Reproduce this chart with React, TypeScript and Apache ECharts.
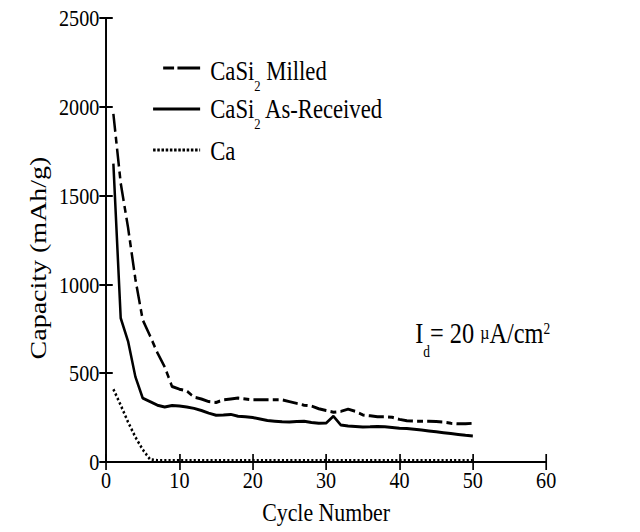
import React, { useEffect, useRef } from "react";
import * as echarts from "echarts";

const cycles = [1,2,3,4,5,6,7,8,9,10,11,12,13,14,15,16,17,18,19,20,21,22,23,24,25,26,27,28,29,30,31,32,33,34,35,36,37,38,39,40,41,42,43,44,45,46,47,48,49,50];

const milled = [1960,1570,1320,1030,800,710,615,535,425,410,400,365,355,340,335,350,355,360,355,350,350,350,350,350,340,330,320,315,300,290,280,285,298,285,265,260,255,255,252,240,232,230,230,230,228,225,218,215,215,218];

const asReceived = [1680,810,680,480,360,340,320,310,318,315,310,302,290,275,263,265,268,258,255,250,242,234,230,226,225,228,230,222,218,219,258,208,203,200,197,198,200,198,194,190,188,184,180,175,170,165,160,155,150,146];

const calcium = [410,320,225,140,70,15,8,8,8,8,8,8,8,8,8,8,8,8,8,8,8,8,8,8,8,8,8,8,8,8,8,8,8,8,8,8,8,8,8,8,8,8,8,8,8,8,8,8,8,8];

const xTicks = [0, 60, 10];
const yTicks = [0, 2500, 500];

const FONT = "Liberation Serif";
const NATIVE_W = 742;
const SQUEEZE = 0.84;
const SHIFT = 17;

function pairs(vals: number[]) {
  return vals.map((v, i) => [cycles[i], v]);
}

export default function App() {
  const ref = useRef<HTMLDivElement>(null);
  useEffect(() => {
    document.body.style.margin = "0";
    const chart = echarts.init(ref.current!, null, { renderer: "svg" });
    const axisLine = { show: true, lineStyle: { color: "#000", width: 2 } };
    const tick = { show: true, inside: true, length: 8, lineStyle: { color: "#000", width: 2 } };
    const mainRich = {
      a: { fontFamily: FONT, fontSize: 27, fill: "#000" },
      s: { fontFamily: FONT, fontSize: 15, padding: [31, 0, 0, 0] },
    };
    const legendText = (y: number, text: string) => ({
      type: "text",
      x: 230,
      y,
      style: {
        text,
        rich: mainRich,
        fontFamily: FONT,
        fontSize: 27,
        fill: "#000",
        verticalAlign: "middle",
        align: "left",
      },
    });
    chart.setOption({
      animation: false,
      backgroundColor: "#fff",
      grid: { left: 106, right: NATIVE_W - 630, top: 18, bottom: 70 },
      xAxis: [
        {
          type: "value",
          min: xTicks[0],
          max: xTicks[1],
          interval: xTicks[2],
          name: "Cycle Number",
          nameLocation: "middle",
          nameGap: 37,
          nameTextStyle: { fontFamily: FONT, fontSize: 26, color: "#000" },
          axisLine,
          axisTick: tick,
          splitLine: { show: false },
          axisLabel: { fontFamily: FONT, fontSize: 24, color: "#000", margin: 6 },
        },
        {
          type: "value",
          position: "top",
          min: xTicks[0],
          max: xTicks[1],
          interval: xTicks[2],
          axisLine,
          axisTick: tick,
          splitLine: { show: false },
          axisLabel: { show: false },
        },
      ],
      yAxis: [
        {
          type: "value",
          min: yTicks[0],
          max: yTicks[1],
          interval: yTicks[2],
          name: "Capacity (mAh/g)",
          nameLocation: "middle",
          nameGap: 56,
          nameTextStyle: { fontFamily: FONT, fontSize: 28, color: "#000", padding: [0, 36, 0, 0] },
          axisLine,
          axisTick: tick,
          splitLine: { show: false },
          axisLabel: { fontFamily: FONT, fontSize: 24, color: "#000", margin: 8, formatter: (v: number) => String(v) },
        },
        {
          type: "value",
          position: "right",
          min: yTicks[0],
          max: yTicks[1],
          interval: yTicks[2],
          axisLine,
          axisTick: tick,
          splitLine: { show: false },
          axisLabel: { show: false },
        },
      ],
      series: [
        {
          name: "CaSi2 Milled",
          type: "line",
          data: pairs(milled),
          showSymbol: false,
          symbol: "none",
          lineStyle: { color: "#000", width: 3, type: [18, 5, 7, 5] },
        },
        {
          name: "CaSi2 As-Received",
          type: "line",
          data: pairs(asReceived),
          showSymbol: false,
          symbol: "none",
          lineStyle: { color: "#000", width: 3 },
        },
        {
          name: "Ca",
          type: "line",
          data: pairs(calcium),
          showSymbol: false,
          symbol: "none",
          lineStyle: { color: "#000", width: 3, type: [2.5, 2.5] },
        },
      ],
      graphic: [
        { type: "line", shape: { x1: 174, y1: 68, x2: 218, y2: 68 }, style: { stroke: "#000", lineWidth: 3, lineDash: [13, 4, 27, 4] } },
        legendText(71, "{a|CaSi}{s|2}{a| Milled}"),
        { type: "line", shape: { x1: 162, y1: 109, x2: 218, y2: 109 }, style: { stroke: "#000", lineWidth: 3 } },
        legendText(109, "{a|CaSi}{s|2}{a| As-Received}"),
        { type: "line", shape: { x1: 162, y1: 150, x2: 218, y2: 150 }, style: { stroke: "#000", lineWidth: 3, lineDash: [3, 2] } },
        legendText(151, "{a|Ca}"),
        {
          type: "text",
          x: 474,
          y: 333,
          style: {
            text: "{a|I}{s|d}{a|= 20 }{m|µ}{a|A/cm}{p|2}",
            rich: {
              a: { fontFamily: FONT, fontSize: 29, fill: "#000" },
              s: { fontFamily: FONT, fontSize: 16, padding: [38, 0, 0, 0] },
              m: { fontFamily: FONT, fontSize: 19 },
              p: { fontFamily: FONT, fontSize: 16, padding: [0, 0, 8, 0] },
            },
            fontFamily: FONT,
            fontSize: 29,
            fill: "#000",
            verticalAlign: "middle",
            align: "left",
          },
        },
      ],
    });
    return () => chart.dispose();
  }, []);
  return (
    <div style={{ width: 640, height: 532, overflow: "hidden", position: "relative", background: "#fff" }}>
      <div
        ref={ref}
        style={{
          width: NATIVE_W,
          height: 532,
          position: "absolute",
          left: 0,
          top: 0,
          transformOrigin: "0 0",
          transform: `translateX(${SHIFT}px) scaleX(${SQUEEZE})`,
        }}
      />
    </div>
  );
}
